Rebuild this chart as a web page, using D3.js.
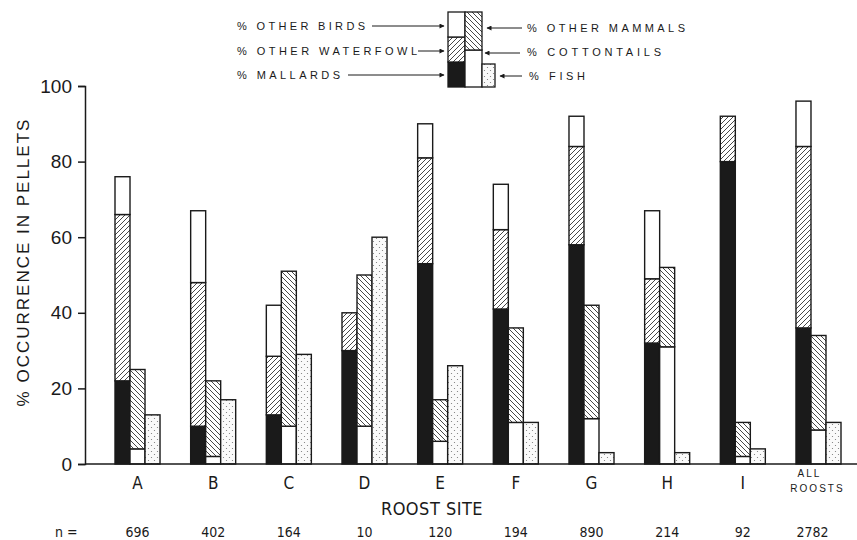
<!DOCTYPE html>
<html>
<head>
<meta charset="utf-8">
<script src="https://cdn.jsdelivr.net/npm/d3@7"></script>
<style>
  body { margin: 0; background: #fff; }
  svg text { fill: #1a1a1a; font-family: "Liberation Sans", Arial, sans-serif; }
  .narrow { font-family: "Liberation Sans Narrow", "DejaVu Sans Condensed", "Liberation Sans", sans-serif; }
</style>
</head>
<body>
<svg id="chart" width="857" height="540"></svg>
<script>
// roost sites and sample sizes
var sites = ["A", "B", "C", "D", "E", "F", "G", "H", "I", "ALL ROOSTS"];
var nValues = [696, 402, 164, 10, 120, 194, 890, 214, 92, 2782];

// birds (stacked bar) - % occurrence
var mallards       = [22, 10, 13,   30, 53, 41, 58, 32, 80, 36];
var otherWaterfowl = [44, 38, 15.5, 10, 28, 21, 26, 17, 12, 48];
var otherBirds     = [10, 19, 13.5,  0,  9, 12,  8, 18,  0, 12];

// mammals (stacked bar)
var cottontails  = [ 4,  2, 10, 10,  6, 11, 12, 31,  2,  9];
var otherMammals = [21, 20, 41, 40, 11, 25, 30, 21,  9, 25];

// fish
var fish = [13, 17, 29, 60, 26, 11, 3, 3, 4, 11];

var yTicks = [0, 20, 40, 60, 80, 100];

var ink = "#1a1a1a";
var svg = d3.select("#chart");

// patterns
var defs = svg.append("defs");
function hatch(id, dir) {
  var p = defs.append("pattern").attr("id", id)
    .attr("patternUnits", "userSpaceOnUse").attr("width", 5).attr("height", 5);
  p.append("rect").attr("width", 5).attr("height", 5).attr("fill", "#fff");
  if (dir > 0) {
    p.append("path").attr("d", "M-1,6 L6,-1 M-1,1 L1,-1 M4,6 L6,4");
  } else {
    p.append("path").attr("d", "M-1,-1 L6,6 M-1,4 L1,6 M4,-1 L6,1");
  }
  p.select("path").attr("stroke", "#333").attr("stroke-width", 0.9);
}
hatch("hatchUp", 1);
hatch("hatchDown", -1);
var dots = defs.append("pattern").attr("id", "dots")
  .attr("patternUnits", "userSpaceOnUse").attr("width", 6).attr("height", 6);
dots.append("rect").attr("width", 6).attr("height", 6).attr("fill", "#fafafa");
dots.append("circle").attr("cx", 1.5).attr("cy", 1.5).attr("r", 0.6).attr("fill", "#777");
dots.append("circle").attr("cx", 4.5).attr("cy", 4.5).attr("r", 0.6).attr("fill", "#777");

// scales
var x = d3.scaleBand().domain(sites).range([115, 841]).paddingInner(0.405).paddingOuter(0);
var sub = d3.scaleBand().domain(["birds", "mammals", "fish"]).range([0, x.bandwidth()]);
var y = d3.scaleLinear().domain([0, 100]).range([464, 86]);

// build rows for stacking
var rows = sites.map(function(s, i) {
  return {site: s, mallards: mallards[i], otherWaterfowl: otherWaterfowl[i], otherBirds: otherBirds[i],
          cottontails: cottontails[i], otherMammals: otherMammals[i], fish: fish[i]};
});

var fills = {mallards: ink, otherWaterfowl: "url(#hatchUp)", otherBirds: "#fff",
             cottontails: "#fff", otherMammals: "url(#hatchDown)", fish: "url(#dots)"};

function drawStack(keys, bar) {
  var series = d3.stack().keys(keys)(rows);
  series.forEach(function(ser) {
    svg.append("g").selectAll("rect").data(ser.filter(function(d) { return d[1] > d[0]; }))
      .enter().append("rect")
      .attr("x", function(d) { return x(d.data.site) + sub(bar); })
      .attr("width", sub.bandwidth())
      .attr("y", function(d) { return y(d[1]); })
      .attr("height", function(d) { return y(d[0]) - y(d[1]); })
      .attr("fill", fills[ser.key])
      .attr("stroke", ink).attr("stroke-width", 1.4);
  });
}
drawStack(["mallards", "otherWaterfowl", "otherBirds"], "birds");
drawStack(["cottontails", "otherMammals"], "mammals");
drawStack(["fish"], "fish");

// axes
var yAxis = d3.axisLeft(y).tickValues(yTicks).tickSize(7).tickPadding(6);
var gy = svg.append("g").attr("transform", "translate(85,0)").call(yAxis);
gy.select(".domain").attr("stroke", ink).attr("stroke-width", 1.5);
gy.selectAll(".tick line").attr("stroke", ink).attr("stroke-width", 1.5);
gy.selectAll("text").attr("font-size", 19).attr("fill", ink)
  .style("font-family", "'Liberation Sans', Arial, sans-serif");

svg.append("line").attr("x1", 85).attr("x2", 857).attr("y1", y(0)).attr("y2", y(0))
  .attr("stroke", ink).attr("stroke-width", 1.6);

// x labels
svg.append("g").selectAll("text").data(sites.slice(0, 9)).enter().append("text")
  .attr("class", "narrow")
  .attr("x", function(d) { return x(d) + x.bandwidth() / 2; })
  .attr("y", 489).attr("text-anchor", "middle").attr("font-size", 17).text(function(d) { return d; });
var allX = x("ALL ROOSTS") + x.bandwidth() / 2 - 3;
svg.append("text").attr("x", allX - 6).attr("y", 477).attr("text-anchor", "middle")
  .attr("font-size", 10).attr("letter-spacing", 2).text("ALL");
svg.append("text").attr("x", allX + 2).attr("y", 492).attr("text-anchor", "middle")
  .attr("font-size", 10).attr("letter-spacing", 2).text("ROOSTS");

svg.append("text").attr("class", "narrow").attr("x", 432).attr("y", 515).attr("text-anchor", "middle")
  .attr("font-size", 18).attr("letter-spacing", 0.5).text("ROOST SITE");

// sample sizes
svg.append("text").attr("class", "narrow").attr("x", 55).attr("y", 537).attr("font-size", 14).text("n =");
svg.append("g").selectAll("text").data(nValues).enter().append("text")
  .attr("class", "narrow")
  .attr("x", function(d, i) { return x(sites[i]) + x.bandwidth() / 2 - (i === 9 ? 6 : 0); })
  .attr("y", 537).attr("text-anchor", "middle").attr("font-size", 14).text(function(d) { return d; });

// y title
svg.append("text").attr("transform", "translate(29,262) rotate(-90)")
  .attr("text-anchor", "middle").attr("font-size", 17).attr("letter-spacing", 2)
  .text("% OCCURRENCE IN PELLETS");

// legend
var lg = svg.append("g");
function lrect(x0, y0, x1, y1, fill) {
  lg.append("rect").attr("x", x0).attr("y", y0).attr("width", x1 - x0).attr("height", y1 - y0)
    .attr("fill", fill).attr("stroke", ink).attr("stroke-width", 1.3);
}
lrect(448, 62, 465, 87, ink);
lrect(448, 37, 465, 62, "url(#hatchUp)");
lrect(448, 12, 465, 37, "#fff");
lrect(465, 50, 482, 87, "#fff");
lrect(465, 12, 482, 50, "url(#hatchDown)");
lrect(482, 64, 495, 87, "url(#dots)");

defs.append("marker").attr("id", "arrow").attr("viewBox", "0 0 10 10").attr("refX", 9).attr("refY", 5)
  .attr("markerWidth", 7).attr("markerHeight", 5).attr("orient", "auto-start-reverse")
  .append("path").attr("d", "M0,0 L10,5 L0,10 z").attr("fill", ink);

var legLeft = [
  {label: "% OTHER BIRDS", y: 26, w: 128, a0: 372},
  {label: "% OTHER WATERFOWL", y: 51, w: 180, a0: 418},
  {label: "% MALLARDS", y: 75, w: 103, a0: 348}
];
var legRight = [
  {label: "% OTHER MAMMALS", y: 28, w: 158, x0: 527, a0: 522, a1: 487, ay: 28},
  {label: "% COTTONTAILS", y: 52, w: 134, x0: 527, a0: 520, a1: 485, ay: 53},
  {label: "% FISH", y: 76, w: 56, x0: 529, a0: 522, a1: 500, ay: 76}
];
legLeft.forEach(function(d) {
  lg.append("text").attr("x", 237).attr("y", d.y + 4).attr("font-size", 11)
    .attr("textLength", d.w).attr("lengthAdjust", "spacing").text(d.label);
  lg.append("line").attr("x1", d.a0).attr("x2", 444).attr("y1", d.y).attr("y2", d.y)
    .attr("stroke", ink).attr("stroke-width", 1).attr("marker-end", "url(#arrow)");
});
legRight.forEach(function(d) {
  lg.append("text").attr("x", d.x0).attr("y", d.y + 4).attr("font-size", 11)
    .attr("textLength", d.w).attr("lengthAdjust", "spacing").text(d.label);
  lg.append("line").attr("x1", d.a0).attr("x2", d.a1).attr("y1", d.ay).attr("y2", d.ay)
    .attr("stroke", ink).attr("stroke-width", 1).attr("marker-end", "url(#arrow)");
});
</script>
</body>
</html>
